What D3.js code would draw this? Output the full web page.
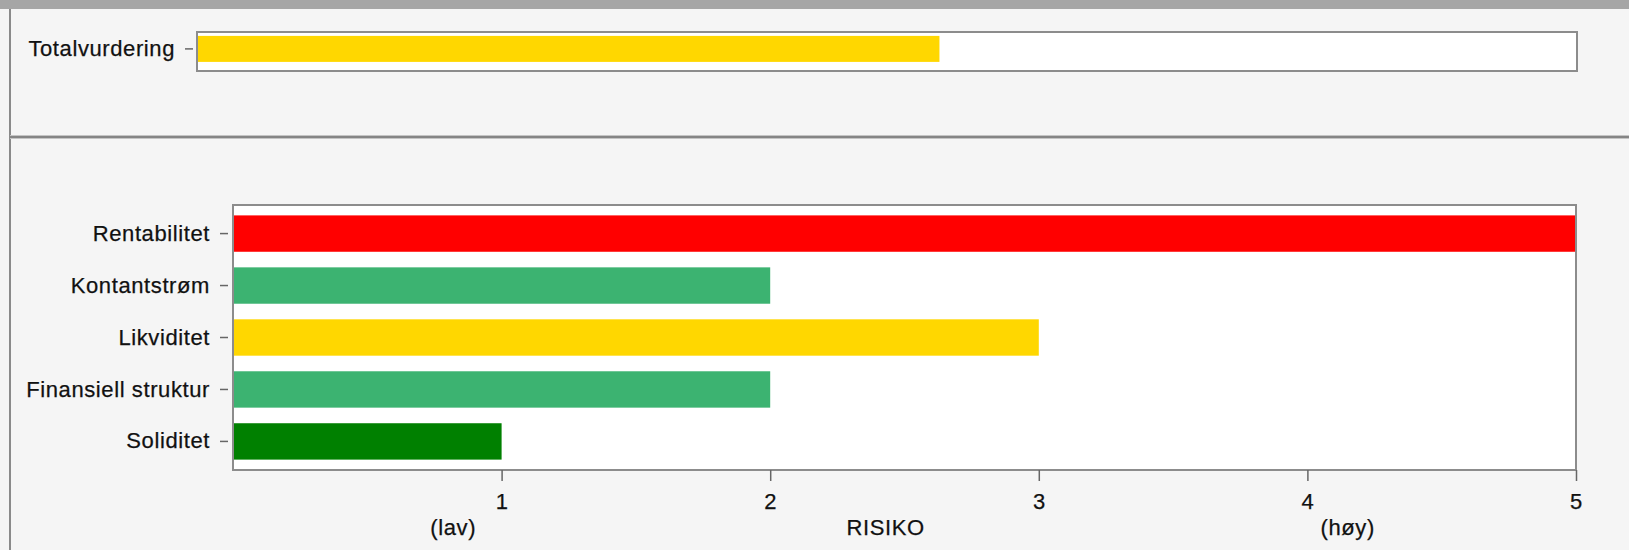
<!DOCTYPE html>
<html>
<head>
<meta charset="utf-8">
<script src="https://cdn.jsdelivr.net/npm/d3@7"></script>
<style>
  body { margin: 0; background: #f5f5f5; }
  text { font-family: "Liberation Sans", Arial, sans-serif; font-size: 22px; fill: #111; letter-spacing: 0.6px; stroke: #111; stroke-width: 0.25px; }
</style>
</head>
<body>
<div id="risk_vis"></div>
<script>
// data
var totalLabel = ["Totalvurdering"];
var totalValue = [2.69];
var totalColor = ["#ffd700"];

var categories = ["Rentabilitet", "Kontantstrøm", "Likviditet", "Finansiell struktur", "Soliditet"];
var values = [5, 2, 3, 2, 1];
var colors = ["#ff0000", "#3cb371", "#ffd700", "#3cb371", "#008000"];

var xTicks = [1, 2, 3, 4, 5];
var axisNotes = ["(lav)", "RISIKO", "(høy)"];
var notePos = [0.82, 2.43, 4.15];

function build_risk_vis() {

    var width = 1629,
    height = 550;

    var svg = d3.select("#risk_vis")
        .append("svg")
            .attr("width", width)
            .attr("height", height)
            .style("display", "block");

    svg.append("rect")
        .attr("width", width).attr("height", height)
        .attr("fill", "#f5f5f5");

    // window frame bits
    svg.append("rect")
        .attr("x", 0).attr("y", 0)
        .attr("width", width).attr("height", 9)
        .attr("fill", "#a6a6a6");
    svg.append("line")
        .attr("x1", 10).attr("x2", 10)
        .attr("y1", 9).attr("y2", height)
        .attr("stroke", "#8a8a8a").attr("stroke-width", 2);
    svg.append("rect")
        .attr("x", 10).attr("y", 135)
        .attr("width", width).attr("height", 4)
        .attr("fill", "#c4c4c4");
    svg.append("line")
        .attr("x1", 10).attr("x2", width)
        .attr("y1", 137).attr("y2", 137)
        .attr("stroke", "#858585").attr("stroke-width", 2);

    // top panel
    var tx0 = 197, tx1 = 1577, ty0 = 32, ty1 = 71;

    var xTop = d3.scaleLinear()
        .range([tx0, tx1])
        .domain([0, 5]);

    var yTop = d3.scaleBand()
        .range([ty0, ty1])
        .domain(totalLabel)
        .paddingInner(0)
        .paddingOuter(0.25)
        .align(0.3);

    svg.append("rect")
        .attr("x", tx0).attr("y", ty0)
        .attr("width", tx1 - tx0).attr("height", ty1 - ty0)
        .attr("fill", "#fff");

    svg.append("g")
        .selectAll("rect")
        .data(totalValue)
        .enter()
        .append("rect")
            .attr("x", xTop(0))
            .attr("y", function(d, i){return yTop(totalLabel[i]);})
            .attr("width", function(d){return xTop(d) - xTop(0);})
            .attr("height", yTop.bandwidth())
            .attr("fill", function(d, i){return totalColor[i];});

    svg.append("rect")
        .attr("x", tx0).attr("y", ty0)
        .attr("width", tx1 - tx0).attr("height", ty1 - ty0)
        .attr("fill", "none")
        .attr("stroke", "#8c8c8c").attr("stroke-width", 2);

    var topAxis = svg.append("g")
        .attr("transform", "translate(" + (tx0 - 4) + ",0)")
        .call(d3.axisLeft(yTop).tickSize(8).tickPadding(10));
    topAxis.select(".domain").remove();
    topAxis.selectAll("line").attr("stroke", "#666").attr("stroke-width", 1.5);
    topAxis.selectAll("text").style("font-size", "22px").attr("fill", "#111");

    // bottom panel
    var bx0 = 233, bx1 = 1576, by0 = 205, by1 = 470;

    var xScale = d3.scaleLinear()
        .range([bx0, bx1])
        .domain([0, 5]);

    var yScale = d3.scaleBand()
        .range([by0, by1])
        .domain(categories)
        .paddingInner(0.3)
        .paddingOuter(0.2);

    svg.append("rect")
        .attr("x", bx0).attr("y", by0)
        .attr("width", bx1 - bx0).attr("height", by1 - by0)
        .attr("fill", "#fff");

    svg.append("g")
        .selectAll("rect")
        .data(values)
        .enter()
        .append("rect")
            .attr("x", xScale(0))
            .attr("y", function(d, i){return yScale(categories[i]);})
            .attr("width", function(d){return xScale(d) - xScale(0);})
            .attr("height", yScale.bandwidth())
            .attr("fill", function(d, i){return colors[i];});

    svg.append("rect")
        .attr("x", bx0).attr("y", by0)
        .attr("width", bx1 - bx0).attr("height", by1 - by0)
        .attr("fill", "none")
        .attr("stroke", "#8c8c8c").attr("stroke-width", 2);

    var yAxis = svg.append("g")
        .attr("transform", "translate(" + (bx0 - 5) + ",0)")
        .call(d3.axisLeft(yScale).tickSize(8).tickPadding(10));
    yAxis.select(".domain").remove();
    yAxis.selectAll("line").attr("stroke", "#666").attr("stroke-width", 1.5);
    yAxis.selectAll("text").style("font-size", "22px").attr("fill", "#111");

    var xAxis = svg.append("g")
        .attr("transform", "translate(0," + by1 + ")")
        .call(d3.axisBottom(xScale).tickValues(xTicks).tickFormat(d3.format("d")).tickSize(11).tickPadding(12));
    xAxis.select(".domain").remove();
    xAxis.selectAll("line").attr("stroke", "#666").attr("stroke-width", 1.5);
    xAxis.selectAll("text").style("font-size", "22px").attr("fill", "#111");

    svg.append("g")
        .selectAll("text")
        .data(axisNotes)
        .enter()
        .append("text")
            .attr("x", function(d, i){return xScale(notePos[i]);})
            .attr("y", 535)
            .attr("text-anchor", "middle")
            .text(function(d){return d;});
}
build_risk_vis()
</script>
</body>
</html>
